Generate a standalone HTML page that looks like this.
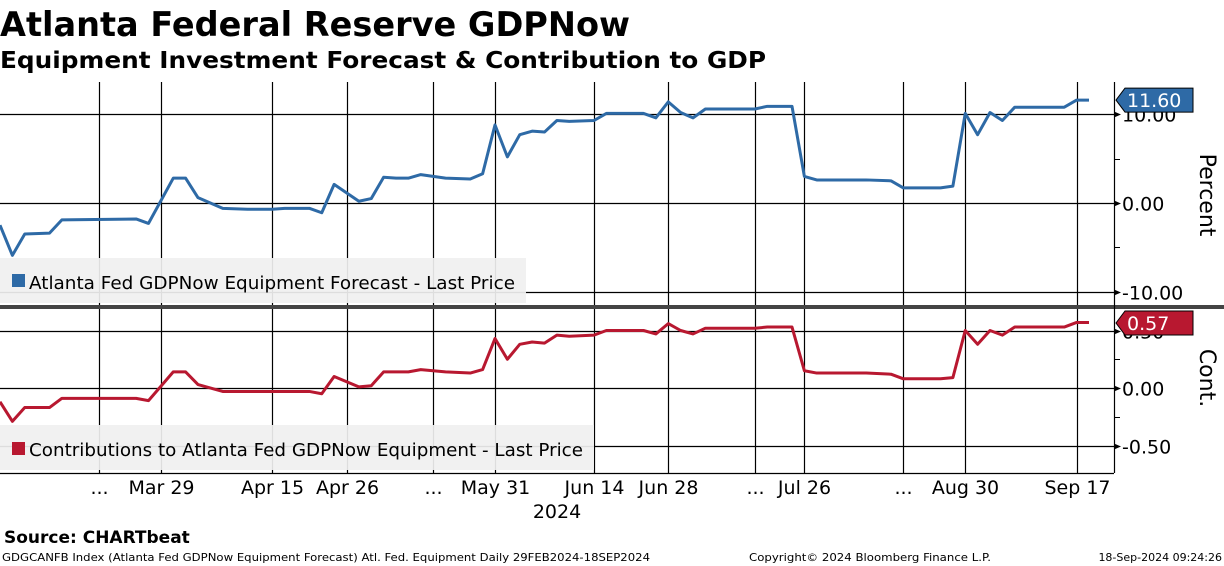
<!DOCTYPE html>
<html><head><meta charset="utf-8"><style>
body{margin:0;background:#fff;}
svg{display:block;font-family:"DejaVu Sans","Liberation Sans",sans-serif;}
</style></head><body>
<svg id="chart" width="1224" height="566" viewBox="0 0 1224 566">
<text x="0" y="36" font-size="34" font-weight="bold" textLength="630" lengthAdjust="spacingAndGlyphs">Atlanta Federal Reserve GDPNow</text>
<text x="0" y="68" font-size="23" font-weight="bold" textLength="766" lengthAdjust="spacingAndGlyphs">Equipment Investment Forecast &amp; Contribution to GDP</text>
<g id="grid"></g>
<rect x="0" y="258" width="526" height="45" fill="#f0f0f0" opacity="0.92"/>
<rect x="12" y="274" width="13" height="13" fill="#2e6aa6"/>
<text x="29" y="289" font-size="18" textLength="486" lengthAdjust="spacingAndGlyphs">Atlanta Fed GDPNow Equipment Forecast - Last Price</text>
<rect x="0" y="425" width="594" height="45" fill="#f0f0f0" opacity="0.92"/>
<rect x="12" y="442" width="13" height="13" fill="#b81830"/>
<text x="29" y="456" font-size="18" textLength="554" lengthAdjust="spacingAndGlyphs">Contributions to Atlanta Fed GDPNow Equipment - Last Price</text>
<g id="series"></g>
<rect x="0" y="305" width="1224" height="4" fill="#444"/>
<line x1="1114.5" y1="82" x2="1114.5" y2="473" stroke="#000" stroke-width="1.2"/>
<line x1="0" y1="473.5" x2="1114" y2="473.5" stroke="#000" stroke-width="1.2"/>
<g id="axes"></g>
<text transform="translate(1200,195) rotate(90)" font-size="22" text-anchor="middle">Percent</text>
<text transform="translate(1200,378) rotate(90)" font-size="22" text-anchor="middle">Cont.</text>
<text x="557" y="518" font-size="19" text-anchor="middle">2024</text>
<text x="4" y="543" font-size="17" font-weight="bold">Source: CHARTbeat</text>
<text x="2" y="561" font-size="11" textLength="648" lengthAdjust="spacingAndGlyphs">GDGCANFB Index (Atlanta Fed GDPNow Equipment Forecast) Atl. Fed. Equipment  Daily 29FEB2024-18SEP2024</text>
<text x="749" y="561" font-size="11" textLength="242" lengthAdjust="spacingAndGlyphs">Copyright© 2024 Bloomberg Finance L.P.</text>
<text x="1222" y="561" font-size="11" text-anchor="end">18-Sep-2024 09:24:26</text>
</svg>
<script>
const sessions = [0,1,2,4,5,11,12,14,15,16,18,20,22,23,25,26,27,29,30,31,32,33,34,35,36,38,39,40,41,42,43,44,45,46,48,49,52,53,54,55,56,57,61,62,64,65,66,70,72,73,76,77,78,79,80,81,82,86,87,88];
const forecast = [-2.5,-5.9,-3.5,-3.4,-1.9,-1.8,-2.3,2.8,2.8,0.6,-0.6,-0.7,-0.7,-0.6,-0.6,-1.1,2.1,0.2,0.5,2.9,2.8,2.8,3.2,3.0,2.8,2.7,3.3,8.8,5.2,7.7,8.1,8.0,9.3,9.2,9.3,10.1,10.1,9.6,11.4,10.2,9.6,10.6,10.6,10.9,10.9,3.0,2.6,2.6,2.5,1.7,1.7,1.9,10.1,7.7,10.2,9.3,10.8,10.8,11.6,11.6];
const contribution = [-0.12,-0.29,-0.17,-0.17,-0.09,-0.09,-0.11,0.14,0.14,0.03,-0.03,-0.03,-0.03,-0.03,-0.03,-0.05,0.10,0.01,0.02,0.14,0.14,0.14,0.16,0.15,0.14,0.13,0.16,0.43,0.25,0.38,0.40,0.39,0.46,0.45,0.46,0.50,0.50,0.47,0.56,0.50,0.47,0.52,0.52,0.53,0.53,0.15,0.13,0.13,0.12,0.08,0.08,0.09,0.50,0.38,0.50,0.46,0.53,0.53,0.57,0.57];
const xLabels = ["...","Mar 29","Apr 15","Apr 26","...","May 31","Jun 14","Jun 28","...","Jul 26","...","Aug 30","Sep 17"];
const xLabelSessions = [8,13,22,28,35,40,48,54,61,65,73,78,87];
const topTicks = [10,0,-10];
const topTickLabels = ["10.00","0.00","-10.00"];
const botTicks = [0.5,0,-0.5];
const botTickLabels = ["0.50","0.00","-0.50"];

const NS="http://www.w3.org/2000/svg";
const xs = s => s*12.375;
const yTop = v => 203 - v*8.87;
const yBot = v => 388 - v*115;
function mk(tag, attrs, parent){const e=document.createElementNS(NS,tag);for(const k in attrs)e.setAttribute(k,attrs[k]);parent.appendChild(e);return e;}
const grid=document.getElementById('grid'), ser=document.getElementById('series'), ax=document.getElementById('axes');

xLabelSessions.forEach((s,i)=>{
  const x=Math.round(xs(s))+0.5;
  const l=mk('line',{x1:x,y1:82,x2:x,y2:305,stroke:'#000','stroke-width':1.2},grid);
  
  
  const l2=mk('line',{x1:x,y1:309,x2:x,y2:473,stroke:'#000','stroke-width':1.2},grid);
  
  
  const t=mk('text',{x:x,y:494,'font-size':19,'text-anchor':'middle'},ax);
  t.textContent=xLabels[i];
  
  
});
topTicks.forEach((v,i)=>{
  const y=Math.round(yTop(v))+0.5;
  const l=mk('line',{x1:0,y1:y,x2:1114,y2:y,stroke:'#000','stroke-width':1.2},grid);
  
  
  mk('path',{d:`M1114 ${y-3}L1121 ${y}L1114 ${y+3}Z`,fill:'#000'},ax);
  const t=mk('text',{x:1122,y:y+7,'font-size':19},ax);
  t.textContent=topTickLabels[i];
  
  
});
[5,-5].forEach(v=>{const y=Math.round(yTop(v))+0.5;mk('line',{x1:1114,y1:y,x2:1120,y2:y,stroke:'#000'},ax);});
botTicks.forEach((v,i)=>{
  const y=Math.round(yBot(v))+0.5;
  const l=mk('line',{x1:0,y1:y,x2:1114,y2:y,stroke:'#000','stroke-width':1.2},grid);
  
  
  mk('path',{d:`M1114 ${y-3}L1121 ${y}L1114 ${y+3}Z`,fill:'#000'},ax);
  const t=mk('text',{x:1122,y:y+7,'font-size':19},ax);
  t.textContent=botTickLabels[i];
  
  
});
[0.25,-0.25].forEach(v=>{const y=Math.round(yBot(v))+0.5;mk('line',{x1:1114,y1:y,x2:1120,y2:y,stroke:'#000'},ax);});

const p1=mk('polyline',{points:sessions.map((s,i)=>xs(s)+','+yTop(forecast[i])).join(' '),fill:'none',stroke:'#2e6aa6','stroke-width':3,'stroke-linejoin':'round'},ser);


const p2=mk('polyline',{points:sessions.map((s,i)=>xs(s)+','+yBot(contribution[i])).join(' '),fill:'none',stroke:'#b81830','stroke-width':3,'stroke-linejoin':'round'},ser);



function tag(y,color,text,name){
  const g=mk('g',{},ax);
  
  
  mk('path',{d:`M1116 ${y}L1125 ${y-12}L1193 ${y-12}L1193 ${y+12}L1125 ${y+12}Z`,fill:color,stroke:'#000','stroke-width':1},g);
  const t=mk('text',{x:1127,y:y+7,'font-size':19,fill:'#fff'},g);
  t.textContent=text;
}
const lastF=forecast[forecast.length-1], lastC=contribution[contribution.length-1];
tag(yTop(lastF),'#2e6aa6',lastF.toFixed(2),'forecast-last-value-tag');
tag(Math.max(yBot(lastC),323),'#b81830',lastC.toFixed(2),'contribution-last-value-tag');
</script>
</body></html>
